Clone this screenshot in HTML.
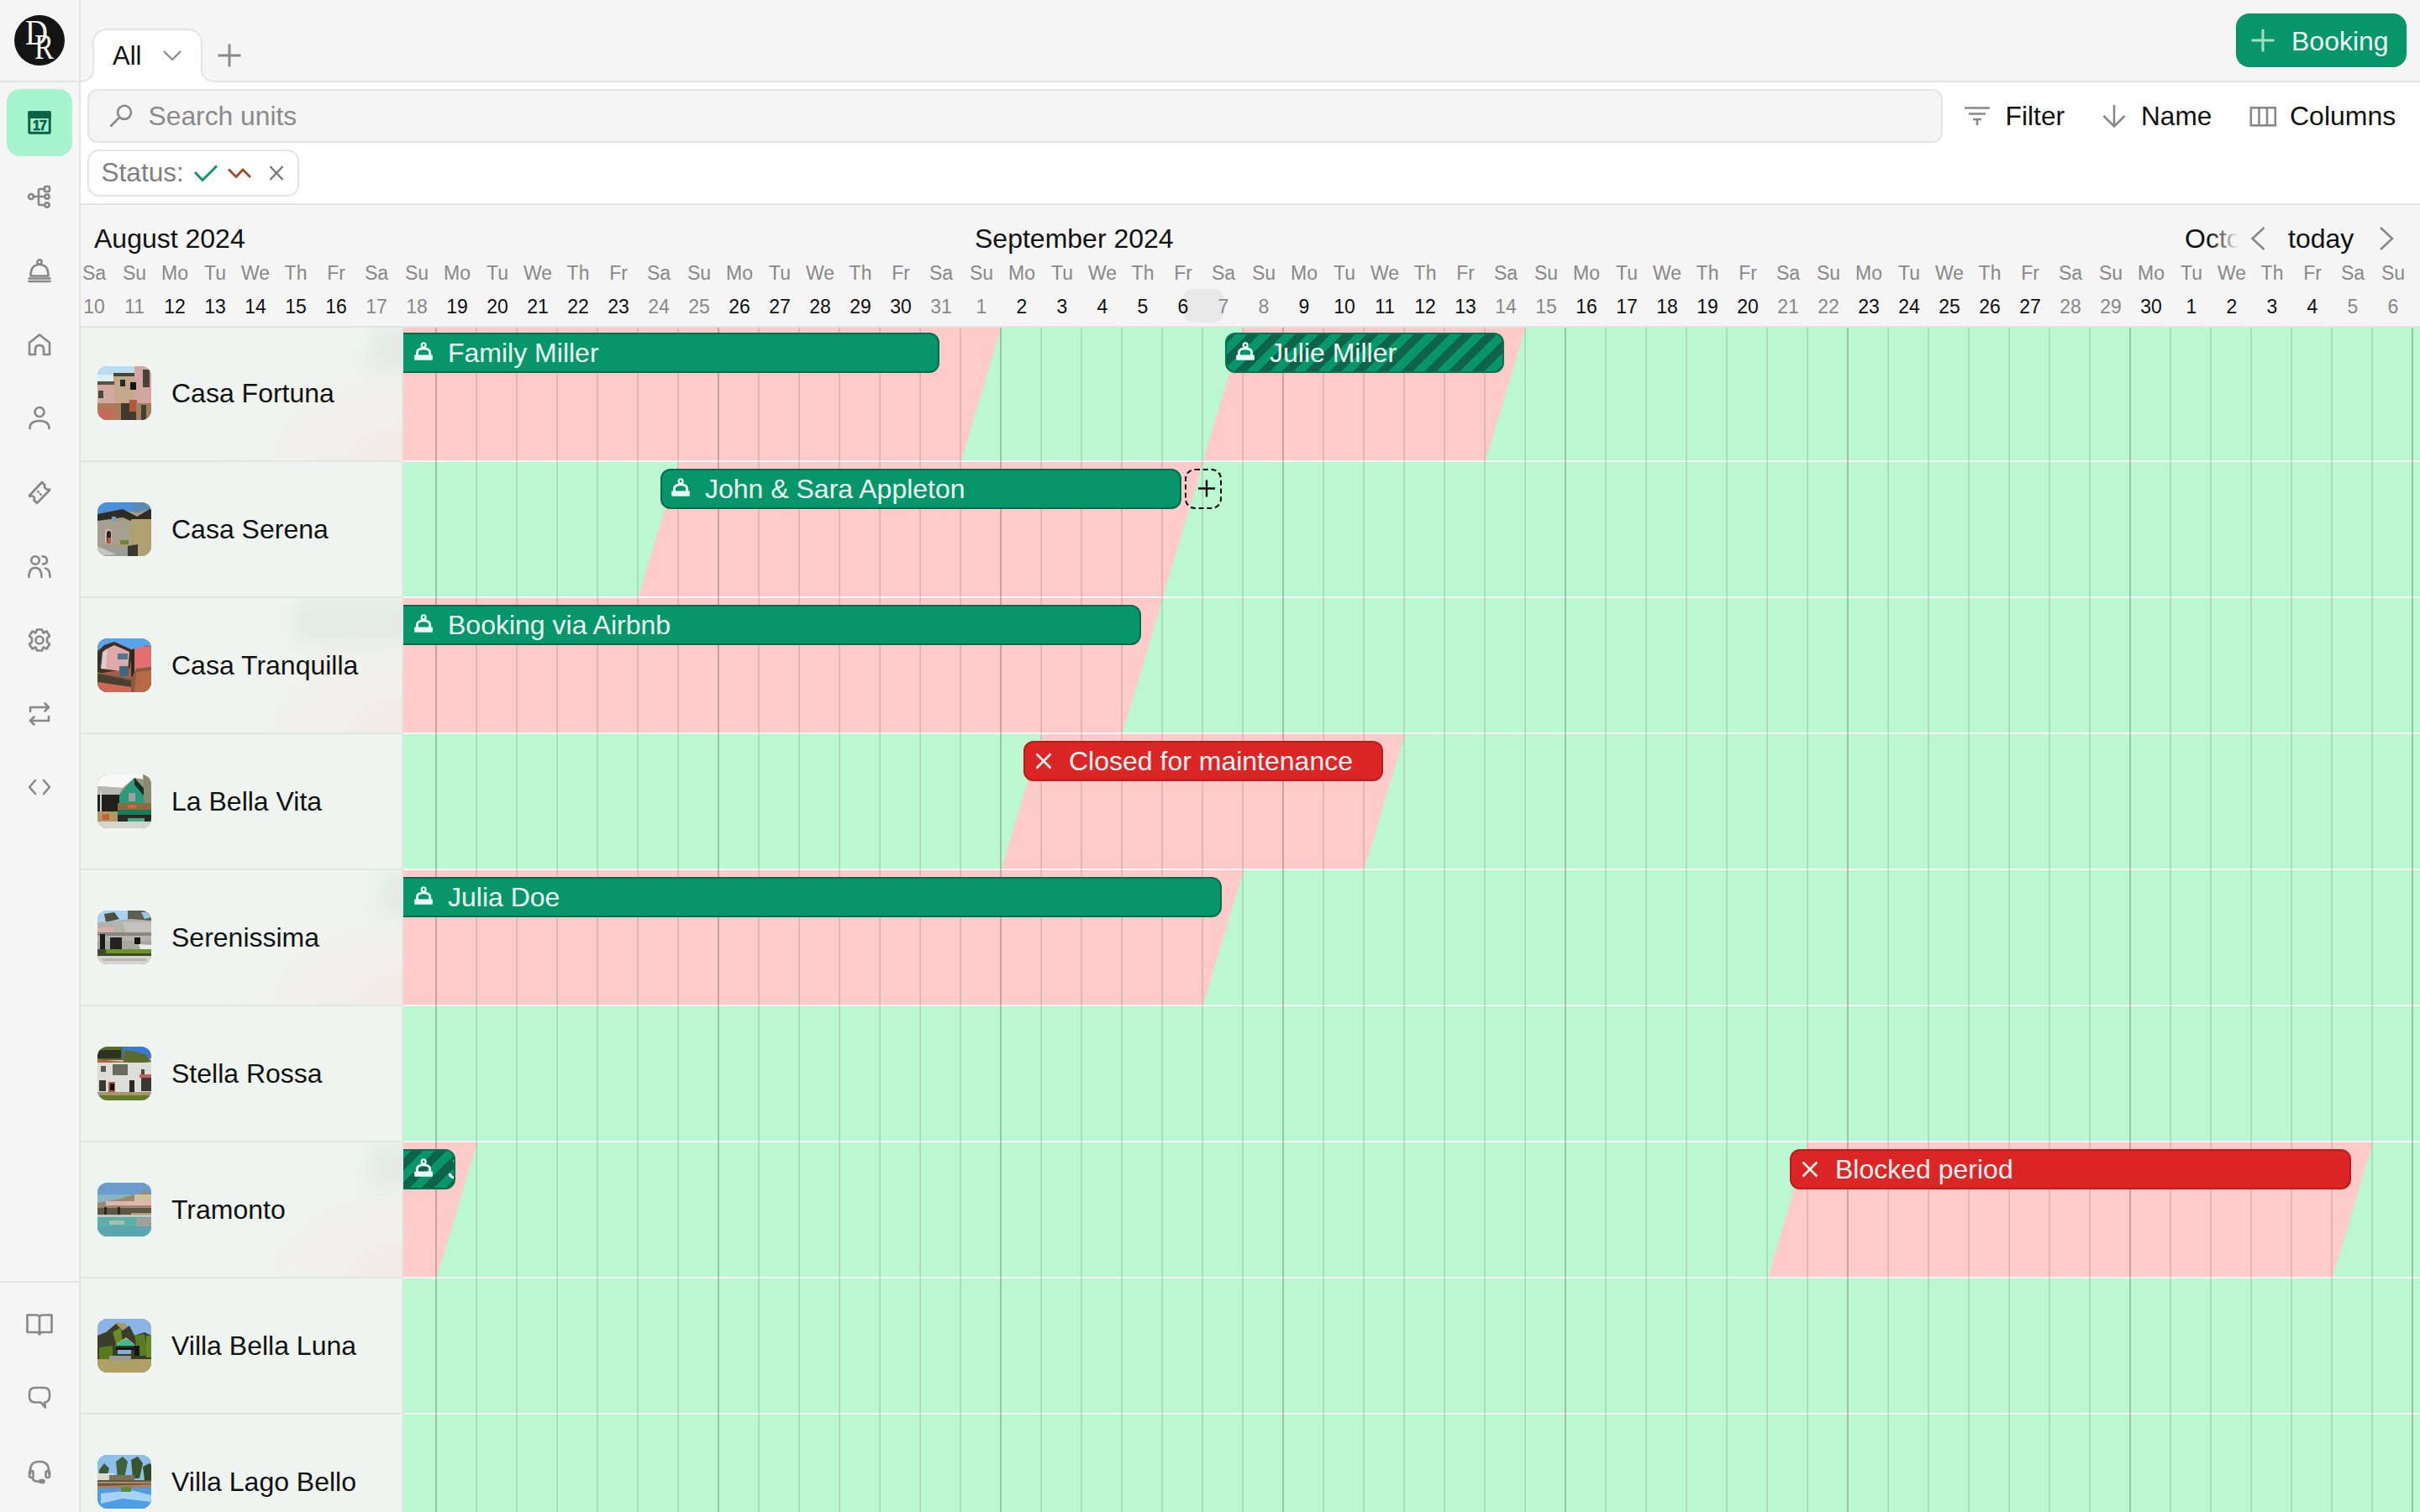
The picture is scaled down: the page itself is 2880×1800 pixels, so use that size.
<!DOCTYPE html><html><head><meta charset="utf-8"><style>
*{box-sizing:border-box;margin:0;padding:0}
html,body{width:2880px;height:1800px;overflow:hidden}
body{position:relative;background:#f5f5f5;font-family:"Liberation Sans",sans-serif;color:#111}
.a{position:absolute}
.t{position:absolute;white-space:nowrap;line-height:1}
svg{position:absolute;overflow:visible}
@media (max-width:2000px){html{zoom:0.5}}
</style></head><body><div class="a" style="left:0;top:0;width:96px;height:1800px;background:#f5f5f5;border-right:2px solid #e3e5e3"></div>
<div class="a" style="left:0;top:96px;width:94px;height:2px;background:#e3e5e3"></div>
<div class="a" style="left:0;top:1525px;width:94px;height:2px;background:#e3e5e3"></div>
<div class="a" style="left:17px;top:18px;width:60px;height:60px;border-radius:50%;background:#141414"></div>
<svg style="left:0;top:0" width="96" height="96" viewBox="0 0 96 96"><text x="30" y="53.2" font-family="Liberation Serif" font-size="42" fill="#f4f4f0" textLength="27" lengthAdjust="spacingAndGlyphs">D</text><text x="41" y="69.9" font-family="Liberation Serif" font-size="42" fill="#f4f4f0" textLength="23" lengthAdjust="spacingAndGlyphs">R</text></svg>
<div class="a" style="left:8px;top:106px;width:78px;height:80px;border-radius:16px;background:#a7f3d0"></div>
<svg style="left:0;top:0" width="96" height="200" viewBox="0 0 96 200"><rect x="34.8" y="133.8" width="24.4" height="24.4" rx="1" fill="none" stroke="#0c6246" stroke-width="3"/><rect x="33.3" y="132.3" width="27.3" height="8.8" rx="1.2" fill="#0c6246"/><text x="47" y="154.7" text-anchor="middle" font-family="Liberation Sans" font-weight="bold" font-size="16" letter-spacing="-0.8" fill="#0c6246" stroke="#0c6246" stroke-width="0.7">17</text></svg>
<svg style="left:33px;top:220px" width="28" height="28" viewBox="0 0 28 28"><g fill="none" stroke="#888888" stroke-width="2.6" stroke-linecap="round" stroke-linejoin="round"><circle cx="4" cy="14" r="3"/><rect x="20" y="2" width="6" height="6" rx="1"/><circle cx="23" cy="14" r="2.6"/><circle cx="23" cy="24" r="2.6"/><path d="M7 14H20M13 14V6.5Q13 5 14.5 5H20M13 14V22.5Q13 24 14.5 24H20"/></g></svg>
<svg style="left:33px;top:308px" width="28" height="30" viewBox="0 0 28 30"><g fill="none" stroke="#888888" stroke-width="2.6" stroke-linecap="round" stroke-linejoin="round"><circle cx="14" cy="4" r="2.6"/><path d="M3.5 20.5Q3.5 7 14 7Q24.5 7 24.5 20.5Z"/><path d="M1.5 23.5H26.5M1.5 27H26.5"/></g></svg>
<svg style="left:33px;top:396px" width="28" height="28" viewBox="0 0 28 28"><g fill="none" stroke="#888888" stroke-width="2.6" stroke-linecap="round" stroke-linejoin="round" stroke-linejoin="miter" stroke-linecap="butt"><path d="M2 26V12L14 2.5L26 12V26H19V20Q19 15 14 15Q9 15 9 20V26Z"/></g></svg>
<svg style="left:33px;top:483px" width="28" height="28" viewBox="0 0 28 28"><g fill="none" stroke="#888888" stroke-width="2.6" stroke-linecap="round" stroke-linejoin="round"><circle cx="14" cy="7.5" r="5.5"/><path d="M2.5 27Q2.5 18 14 18Q25.5 18 25.5 27"/></g></svg>
<svg style="left:33px;top:571px" width="28" height="30" viewBox="0 0 28 30"><g fill="none" stroke="#888888" stroke-width="2.6" stroke-linecap="round" stroke-linejoin="round"><path d="M2 19L17 3L20.5 6.5Q19 9.5 22 11Q24 12.5 26 11.5L26 12.5L11 28L7.5 24.5Q9 21.5 6.5 20Q4 18.5 2.5 20Z"/><path d="M12 14L13 15M15 17L16 18" stroke-width="2.4"/></g></svg>
<svg style="left:33px;top:660px" width="28" height="28" viewBox="0 0 28 28"><g fill="none" stroke="#888888" stroke-width="2.6" stroke-linecap="round" stroke-linejoin="round"><circle cx="9" cy="7" r="4.8"/><path d="M1.5 27Q1.5 16 9 16Q16.5 16 16.5 27"/><path d="M17.5 2.5Q23 2.5 23 7Q23 11.5 18 11.5"/><path d="M21 16.5Q26.5 17.5 26.5 27"/></g></svg>
<svg style="left:32px;top:747px" width="30" height="30" viewBox="0 0 30 30"><g fill="none" stroke="#888888" stroke-width="2.6" stroke-linecap="round" stroke-linejoin="round"><path d="M12 2.5H18L19.5 6.5L23.5 4.5L27 10L24 13V17L27 20L23.5 25.5L19.5 23.5L18 27.5H12L10.5 23.5L6.5 25.5L3 20L6 17V13L3 10L6.5 4.5L10.5 6.5Z"/><circle cx="15" cy="15" r="4.5"/></g></svg>
<svg style="left:33px;top:836px" width="28" height="28" viewBox="0 0 28 28"><g fill="none" stroke="#888888" stroke-width="2.6" stroke-linecap="round" stroke-linejoin="round"><path d="M3 11V6H25M20.5 1.5L25 6L20.5 10.5"/><path d="M25 17V22H3M7.5 17.5L3 22L7.5 26.5"/></g></svg>
<svg style="left:33px;top:927px" width="28" height="20" viewBox="0 0 28 20"><g fill="none" stroke="#888888" stroke-width="2.6" stroke-linecap="round" stroke-linejoin="round"><path d="M9 2L2 10L9 18M19 2L26 10L19 18"/></g></svg>
<svg style="left:31px;top:1564px" width="32" height="28" viewBox="0 0 32 28"><g fill="none" stroke="#888888" stroke-width="2.6" stroke-linecap="round" stroke-linejoin="round" stroke-linejoin="miter"><path d="M1.5 1.5H12Q16 1.5 16 5V23.5M30.5 1.5H20Q16 1.5 16 5M1.5 1.5V22H14L16 24.5L18 22H30.5V1.5"/></g></svg>
<svg style="left:33px;top:1650px" width="28" height="28" viewBox="0 0 28 28"><g fill="none" stroke="#888888" stroke-width="2.6" stroke-linecap="round" stroke-linejoin="round"><path d="M9 19.5Q2 19.5 2 12.5V9Q2 2 9 2H19Q26 2 26 9V12.5Q26 19 20 19.5L21 25.5L15.5 19.5Z"/></g></svg>
<svg style="left:33px;top:1738px" width="28" height="28" viewBox="0 0 28 28"><g fill="none" stroke="#888888" stroke-width="2.6" stroke-linecap="round" stroke-linejoin="round"><path d="M3 16V13Q3 2 14 2Q25 2 25 13V16"/><rect x="2" y="13" width="4.5" height="8" rx="2"/><rect x="21.5" y="13" width="4.5" height="8" rx="2"/><path d="M6 21Q6 25.5 11 25.5H15"/><rect x="14.5" y="24" width="5" height="3" rx="1" fill="#888888"/></g></svg>
<svg style="left:0;top:0" width="2880" height="100" viewBox="0 0 2880 100"><path d="M96 99V97A14 14 0 0 0 111 83V51A16 16 0 0 1 127 35H224A16 16 0 0 1 240 51V83A14 14 0 0 0 254 97V99Z" fill="#fff"/><path d="M94 97H97A14 14 0 0 0 111 83V51A16 16 0 0 1 127 35H224A16 16 0 0 1 240 51V83A14 14 0 0 0 254 97H2880" fill="none" stroke="#e3e5e3" stroke-width="2"/></svg>
<div class="t" style="left:134.0px;top:51.00px;font-size:31px;color:#111;">All</div>
<svg style="left:0;top:0" width="300" height="100"><path d="M195 61L205 71L215 61" fill="none" stroke="#888888" stroke-width="2.2"/><path d="M259.5 66H286.5M273 52.5V79.5" stroke="#888888" stroke-width="2.8"/></svg>
<div class="a" style="left:2661px;top:16px;width:203px;height:64px;border-radius:16px;background:#079669"></div>
<svg style="left:2670px;top:30px" width="50" height="40"><path d="M9.5 18H36.5M23 4.7V31.5" stroke="#a6dbc4" stroke-width="3"/></svg>
<div class="t" style="left:2727.0px;top:32.50px;font-size:32px;color:#ecfdf5;">Booking</div>
<div class="a" style="left:96px;top:98px;width:2784px;height:144px;background:#fff"></div>
<div class="a" style="left:96px;top:242px;width:2784px;height:2px;background:#e3e5e3"></div>
<div class="a" style="left:104px;top:106px;width:2208px;height:64px;border-radius:12px;background:#f5f5f5;border:2px solid #e3e5e3"></div>
<svg style="left:125px;top:118px" width="40" height="40" viewBox="0 0 40 40"><g fill="none" stroke="#888888" stroke-width="2.6"><circle cx="23" cy="15.8" r="8"/><path d="M6.5 32.5L17.3 21.7"/></g></svg>
<div class="t" style="left:176.5px;top:123.10px;font-size:31.8px;color:#8a8a8a;">Search units</div>
<svg style="left:2330px;top:120px" width="50" height="40"><g stroke="#888888" stroke-width="2.6" fill="none"><path d="M8 8.5H38M13 15.5H33M18 22H28M23 22V29"/></g></svg>
<div class="t" style="left:2386.5px;top:123.10px;font-size:31.8px;color:#111;">Filter</div>
<svg style="left:2495px;top:118px" width="40" height="40"><g stroke="#888888" stroke-width="2.6" fill="none"><path d="M21 7V32.5M8.5 20L21 32.5L33.5 20"/></g></svg>
<div class="t" style="left:2548.0px;top:123.20px;font-size:31.6px;color:#111;">Name</div>
<svg style="left:2670px;top:120px" width="50" height="40"><g stroke="#888888" stroke-width="2.6" fill="none"><rect x="8.8" y="8.3" width="29" height="21"/><path d="M18.5 8.3V29.3M28 8.3V29.3"/></g></svg>
<div class="t" style="left:2725.0px;top:122.00px;font-size:32px;color:#111;">Columns</div>
<div class="a" style="left:104px;top:178px;width:252px;height:56px;border-radius:14px;background:#fff;border:2px solid #e3e5e3"></div>
<div class="t" style="left:120.5px;top:189.70px;font-size:31.6px;color:#808080;">Status:</div>
<svg style="left:220px;top:185px" width="130" height="40" viewBox="220 185 130 40"><path d="M232 205L241 214.5L258 197.5" fill="none" stroke="#079669" stroke-width="2.8"/><path d="M272 201.5L281 210.5L289 202L298 211" fill="none" stroke="#a14a2a" stroke-width="2.8"/><path d="M321.5 198L336.5 214M336.5 198L321.5 214" fill="none" stroke="#777" stroke-width="2.3"/></svg>
<div class="a" style="left:96px;top:244px;width:2784px;height:144px;background:#f5f5f5"></div>
<div class="a" style="left:1408px;top:344px;width:48px;height:40px;border-radius:12px;background:#e7e8e7"></div>
<div class="t" style="left:112.0px;top:313.50px;font-size:23px;color:#888;width:0;display:flex;justify-content:center;">Sa</div>
<div class="t" style="left:112.0px;top:353.50px;font-size:23px;color:#888;width:0;display:flex;justify-content:center;">10</div>
<div class="t" style="left:160.0px;top:313.50px;font-size:23px;color:#888;width:0;display:flex;justify-content:center;">Su</div>
<div class="t" style="left:160.0px;top:353.50px;font-size:23px;color:#888;width:0;display:flex;justify-content:center;">11</div>
<div class="t" style="left:208.0px;top:313.50px;font-size:23px;color:#888;width:0;display:flex;justify-content:center;">Mo</div>
<div class="t" style="left:208.0px;top:353.50px;font-size:23px;color:#111;width:0;display:flex;justify-content:center;">12</div>
<div class="t" style="left:256.0px;top:313.50px;font-size:23px;color:#888;width:0;display:flex;justify-content:center;">Tu</div>
<div class="t" style="left:256.0px;top:353.50px;font-size:23px;color:#111;width:0;display:flex;justify-content:center;">13</div>
<div class="t" style="left:304.0px;top:313.50px;font-size:23px;color:#888;width:0;display:flex;justify-content:center;">We</div>
<div class="t" style="left:304.0px;top:353.50px;font-size:23px;color:#111;width:0;display:flex;justify-content:center;">14</div>
<div class="t" style="left:352.0px;top:313.50px;font-size:23px;color:#888;width:0;display:flex;justify-content:center;">Th</div>
<div class="t" style="left:352.0px;top:353.50px;font-size:23px;color:#111;width:0;display:flex;justify-content:center;">15</div>
<div class="t" style="left:400.0px;top:313.50px;font-size:23px;color:#888;width:0;display:flex;justify-content:center;">Fr</div>
<div class="t" style="left:400.0px;top:353.50px;font-size:23px;color:#111;width:0;display:flex;justify-content:center;">16</div>
<div class="t" style="left:448.0px;top:313.50px;font-size:23px;color:#888;width:0;display:flex;justify-content:center;">Sa</div>
<div class="t" style="left:448.0px;top:353.50px;font-size:23px;color:#888;width:0;display:flex;justify-content:center;">17</div>
<div class="t" style="left:496.0px;top:313.50px;font-size:23px;color:#888;width:0;display:flex;justify-content:center;">Su</div>
<div class="t" style="left:496.0px;top:353.50px;font-size:23px;color:#888;width:0;display:flex;justify-content:center;">18</div>
<div class="t" style="left:544.0px;top:313.50px;font-size:23px;color:#888;width:0;display:flex;justify-content:center;">Mo</div>
<div class="t" style="left:544.0px;top:353.50px;font-size:23px;color:#111;width:0;display:flex;justify-content:center;">19</div>
<div class="t" style="left:592.0px;top:313.50px;font-size:23px;color:#888;width:0;display:flex;justify-content:center;">Tu</div>
<div class="t" style="left:592.0px;top:353.50px;font-size:23px;color:#111;width:0;display:flex;justify-content:center;">20</div>
<div class="t" style="left:640.0px;top:313.50px;font-size:23px;color:#888;width:0;display:flex;justify-content:center;">We</div>
<div class="t" style="left:640.0px;top:353.50px;font-size:23px;color:#111;width:0;display:flex;justify-content:center;">21</div>
<div class="t" style="left:688.0px;top:313.50px;font-size:23px;color:#888;width:0;display:flex;justify-content:center;">Th</div>
<div class="t" style="left:688.0px;top:353.50px;font-size:23px;color:#111;width:0;display:flex;justify-content:center;">22</div>
<div class="t" style="left:736.0px;top:313.50px;font-size:23px;color:#888;width:0;display:flex;justify-content:center;">Fr</div>
<div class="t" style="left:736.0px;top:353.50px;font-size:23px;color:#111;width:0;display:flex;justify-content:center;">23</div>
<div class="t" style="left:784.0px;top:313.50px;font-size:23px;color:#888;width:0;display:flex;justify-content:center;">Sa</div>
<div class="t" style="left:784.0px;top:353.50px;font-size:23px;color:#888;width:0;display:flex;justify-content:center;">24</div>
<div class="t" style="left:832.0px;top:313.50px;font-size:23px;color:#888;width:0;display:flex;justify-content:center;">Su</div>
<div class="t" style="left:832.0px;top:353.50px;font-size:23px;color:#888;width:0;display:flex;justify-content:center;">25</div>
<div class="t" style="left:880.0px;top:313.50px;font-size:23px;color:#888;width:0;display:flex;justify-content:center;">Mo</div>
<div class="t" style="left:880.0px;top:353.50px;font-size:23px;color:#111;width:0;display:flex;justify-content:center;">26</div>
<div class="t" style="left:928.0px;top:313.50px;font-size:23px;color:#888;width:0;display:flex;justify-content:center;">Tu</div>
<div class="t" style="left:928.0px;top:353.50px;font-size:23px;color:#111;width:0;display:flex;justify-content:center;">27</div>
<div class="t" style="left:976.0px;top:313.50px;font-size:23px;color:#888;width:0;display:flex;justify-content:center;">We</div>
<div class="t" style="left:976.0px;top:353.50px;font-size:23px;color:#111;width:0;display:flex;justify-content:center;">28</div>
<div class="t" style="left:1024.0px;top:313.50px;font-size:23px;color:#888;width:0;display:flex;justify-content:center;">Th</div>
<div class="t" style="left:1024.0px;top:353.50px;font-size:23px;color:#111;width:0;display:flex;justify-content:center;">29</div>
<div class="t" style="left:1072.0px;top:313.50px;font-size:23px;color:#888;width:0;display:flex;justify-content:center;">Fr</div>
<div class="t" style="left:1072.0px;top:353.50px;font-size:23px;color:#111;width:0;display:flex;justify-content:center;">30</div>
<div class="t" style="left:1120.0px;top:313.50px;font-size:23px;color:#888;width:0;display:flex;justify-content:center;">Sa</div>
<div class="t" style="left:1120.0px;top:353.50px;font-size:23px;color:#888;width:0;display:flex;justify-content:center;">31</div>
<div class="t" style="left:1168.0px;top:313.50px;font-size:23px;color:#888;width:0;display:flex;justify-content:center;">Su</div>
<div class="t" style="left:1168.0px;top:353.50px;font-size:23px;color:#888;width:0;display:flex;justify-content:center;">1</div>
<div class="t" style="left:1216.0px;top:313.50px;font-size:23px;color:#888;width:0;display:flex;justify-content:center;">Mo</div>
<div class="t" style="left:1216.0px;top:353.50px;font-size:23px;color:#111;width:0;display:flex;justify-content:center;">2</div>
<div class="t" style="left:1264.0px;top:313.50px;font-size:23px;color:#888;width:0;display:flex;justify-content:center;">Tu</div>
<div class="t" style="left:1264.0px;top:353.50px;font-size:23px;color:#111;width:0;display:flex;justify-content:center;">3</div>
<div class="t" style="left:1312.0px;top:313.50px;font-size:23px;color:#888;width:0;display:flex;justify-content:center;">We</div>
<div class="t" style="left:1312.0px;top:353.50px;font-size:23px;color:#111;width:0;display:flex;justify-content:center;">4</div>
<div class="t" style="left:1360.0px;top:313.50px;font-size:23px;color:#888;width:0;display:flex;justify-content:center;">Th</div>
<div class="t" style="left:1360.0px;top:353.50px;font-size:23px;color:#111;width:0;display:flex;justify-content:center;">5</div>
<div class="t" style="left:1408.0px;top:313.50px;font-size:23px;color:#888;width:0;display:flex;justify-content:center;">Fr</div>
<div class="t" style="left:1408.0px;top:353.50px;font-size:23px;color:#111;width:0;display:flex;justify-content:center;">6</div>
<div class="t" style="left:1456.0px;top:313.50px;font-size:23px;color:#888;width:0;display:flex;justify-content:center;">Sa</div>
<div class="t" style="left:1456.0px;top:353.50px;font-size:23px;color:#888;width:0;display:flex;justify-content:center;">7</div>
<div class="t" style="left:1504.0px;top:313.50px;font-size:23px;color:#888;width:0;display:flex;justify-content:center;">Su</div>
<div class="t" style="left:1504.0px;top:353.50px;font-size:23px;color:#888;width:0;display:flex;justify-content:center;">8</div>
<div class="t" style="left:1552.0px;top:313.50px;font-size:23px;color:#888;width:0;display:flex;justify-content:center;">Mo</div>
<div class="t" style="left:1552.0px;top:353.50px;font-size:23px;color:#111;width:0;display:flex;justify-content:center;">9</div>
<div class="t" style="left:1600.0px;top:313.50px;font-size:23px;color:#888;width:0;display:flex;justify-content:center;">Tu</div>
<div class="t" style="left:1600.0px;top:353.50px;font-size:23px;color:#111;width:0;display:flex;justify-content:center;">10</div>
<div class="t" style="left:1648.0px;top:313.50px;font-size:23px;color:#888;width:0;display:flex;justify-content:center;">We</div>
<div class="t" style="left:1648.0px;top:353.50px;font-size:23px;color:#111;width:0;display:flex;justify-content:center;">11</div>
<div class="t" style="left:1696.0px;top:313.50px;font-size:23px;color:#888;width:0;display:flex;justify-content:center;">Th</div>
<div class="t" style="left:1696.0px;top:353.50px;font-size:23px;color:#111;width:0;display:flex;justify-content:center;">12</div>
<div class="t" style="left:1744.0px;top:313.50px;font-size:23px;color:#888;width:0;display:flex;justify-content:center;">Fr</div>
<div class="t" style="left:1744.0px;top:353.50px;font-size:23px;color:#111;width:0;display:flex;justify-content:center;">13</div>
<div class="t" style="left:1792.0px;top:313.50px;font-size:23px;color:#888;width:0;display:flex;justify-content:center;">Sa</div>
<div class="t" style="left:1792.0px;top:353.50px;font-size:23px;color:#888;width:0;display:flex;justify-content:center;">14</div>
<div class="t" style="left:1840.0px;top:313.50px;font-size:23px;color:#888;width:0;display:flex;justify-content:center;">Su</div>
<div class="t" style="left:1840.0px;top:353.50px;font-size:23px;color:#888;width:0;display:flex;justify-content:center;">15</div>
<div class="t" style="left:1888.0px;top:313.50px;font-size:23px;color:#888;width:0;display:flex;justify-content:center;">Mo</div>
<div class="t" style="left:1888.0px;top:353.50px;font-size:23px;color:#111;width:0;display:flex;justify-content:center;">16</div>
<div class="t" style="left:1936.0px;top:313.50px;font-size:23px;color:#888;width:0;display:flex;justify-content:center;">Tu</div>
<div class="t" style="left:1936.0px;top:353.50px;font-size:23px;color:#111;width:0;display:flex;justify-content:center;">17</div>
<div class="t" style="left:1984.0px;top:313.50px;font-size:23px;color:#888;width:0;display:flex;justify-content:center;">We</div>
<div class="t" style="left:1984.0px;top:353.50px;font-size:23px;color:#111;width:0;display:flex;justify-content:center;">18</div>
<div class="t" style="left:2032.0px;top:313.50px;font-size:23px;color:#888;width:0;display:flex;justify-content:center;">Th</div>
<div class="t" style="left:2032.0px;top:353.50px;font-size:23px;color:#111;width:0;display:flex;justify-content:center;">19</div>
<div class="t" style="left:2080.0px;top:313.50px;font-size:23px;color:#888;width:0;display:flex;justify-content:center;">Fr</div>
<div class="t" style="left:2080.0px;top:353.50px;font-size:23px;color:#111;width:0;display:flex;justify-content:center;">20</div>
<div class="t" style="left:2128.0px;top:313.50px;font-size:23px;color:#888;width:0;display:flex;justify-content:center;">Sa</div>
<div class="t" style="left:2128.0px;top:353.50px;font-size:23px;color:#888;width:0;display:flex;justify-content:center;">21</div>
<div class="t" style="left:2176.0px;top:313.50px;font-size:23px;color:#888;width:0;display:flex;justify-content:center;">Su</div>
<div class="t" style="left:2176.0px;top:353.50px;font-size:23px;color:#888;width:0;display:flex;justify-content:center;">22</div>
<div class="t" style="left:2224.0px;top:313.50px;font-size:23px;color:#888;width:0;display:flex;justify-content:center;">Mo</div>
<div class="t" style="left:2224.0px;top:353.50px;font-size:23px;color:#111;width:0;display:flex;justify-content:center;">23</div>
<div class="t" style="left:2272.0px;top:313.50px;font-size:23px;color:#888;width:0;display:flex;justify-content:center;">Tu</div>
<div class="t" style="left:2272.0px;top:353.50px;font-size:23px;color:#111;width:0;display:flex;justify-content:center;">24</div>
<div class="t" style="left:2320.0px;top:313.50px;font-size:23px;color:#888;width:0;display:flex;justify-content:center;">We</div>
<div class="t" style="left:2320.0px;top:353.50px;font-size:23px;color:#111;width:0;display:flex;justify-content:center;">25</div>
<div class="t" style="left:2368.0px;top:313.50px;font-size:23px;color:#888;width:0;display:flex;justify-content:center;">Th</div>
<div class="t" style="left:2368.0px;top:353.50px;font-size:23px;color:#111;width:0;display:flex;justify-content:center;">26</div>
<div class="t" style="left:2416.0px;top:313.50px;font-size:23px;color:#888;width:0;display:flex;justify-content:center;">Fr</div>
<div class="t" style="left:2416.0px;top:353.50px;font-size:23px;color:#111;width:0;display:flex;justify-content:center;">27</div>
<div class="t" style="left:2464.0px;top:313.50px;font-size:23px;color:#888;width:0;display:flex;justify-content:center;">Sa</div>
<div class="t" style="left:2464.0px;top:353.50px;font-size:23px;color:#888;width:0;display:flex;justify-content:center;">28</div>
<div class="t" style="left:2512.0px;top:313.50px;font-size:23px;color:#888;width:0;display:flex;justify-content:center;">Su</div>
<div class="t" style="left:2512.0px;top:353.50px;font-size:23px;color:#888;width:0;display:flex;justify-content:center;">29</div>
<div class="t" style="left:2560.0px;top:313.50px;font-size:23px;color:#888;width:0;display:flex;justify-content:center;">Mo</div>
<div class="t" style="left:2560.0px;top:353.50px;font-size:23px;color:#111;width:0;display:flex;justify-content:center;">30</div>
<div class="t" style="left:2608.0px;top:313.50px;font-size:23px;color:#888;width:0;display:flex;justify-content:center;">Tu</div>
<div class="t" style="left:2608.0px;top:353.50px;font-size:23px;color:#111;width:0;display:flex;justify-content:center;">1</div>
<div class="t" style="left:2656.0px;top:313.50px;font-size:23px;color:#888;width:0;display:flex;justify-content:center;">We</div>
<div class="t" style="left:2656.0px;top:353.50px;font-size:23px;color:#111;width:0;display:flex;justify-content:center;">2</div>
<div class="t" style="left:2704.0px;top:313.50px;font-size:23px;color:#888;width:0;display:flex;justify-content:center;">Th</div>
<div class="t" style="left:2704.0px;top:353.50px;font-size:23px;color:#111;width:0;display:flex;justify-content:center;">3</div>
<div class="t" style="left:2752.0px;top:313.50px;font-size:23px;color:#888;width:0;display:flex;justify-content:center;">Fr</div>
<div class="t" style="left:2752.0px;top:353.50px;font-size:23px;color:#111;width:0;display:flex;justify-content:center;">4</div>
<div class="t" style="left:2800.0px;top:313.50px;font-size:23px;color:#888;width:0;display:flex;justify-content:center;">Sa</div>
<div class="t" style="left:2800.0px;top:353.50px;font-size:23px;color:#888;width:0;display:flex;justify-content:center;">5</div>
<div class="t" style="left:2848.0px;top:313.50px;font-size:23px;color:#888;width:0;display:flex;justify-content:center;">Su</div>
<div class="t" style="left:2848.0px;top:353.50px;font-size:23px;color:#888;width:0;display:flex;justify-content:center;">6</div>
<div class="t" style="left:2896.0px;top:313.50px;font-size:23px;color:#888;width:0;display:flex;justify-content:center;">Mo</div>
<div class="t" style="left:2896.0px;top:353.50px;font-size:23px;color:#111;width:0;display:flex;justify-content:center;">7</div>
<div class="t" style="left:112.0px;top:268.00px;font-size:32px;color:#111;">August 2024</div>
<div class="t" style="left:1160.0px;top:268.00px;font-size:32px;color:#111;">September 2024</div>
<div class="t" style="left:2600.0px;top:268.00px;font-size:32px;color:#111;">October 2024</div>
<div class="a" style="left:2630px;top:258px;width:250px;height:50px;background:linear-gradient(90deg,rgba(245,245,245,0) 0,#f5f5f5 34px)"></div>
<svg style="left:2670px;top:265px" width="190" height="40" viewBox="2670 265 190 40"><g fill="none" stroke="#888888" stroke-width="2.6"><path d="M2694.5 271L2680.5 284L2694.5 297"/><path d="M2833 271L2847 284L2833 297"/></g></svg>
<div class="t" style="left:2723.0px;top:268.00px;font-size:32px;color:#111;">today</div>
<svg style="left:0;top:388px" width="2880" height="1412" viewBox="0 388 2880 1412"><rect x="480" y="388" width="2400" height="160" fill="#bbf7d0"/><path d="M400 548L400 388L1192 388L1144 548Z" fill="#fecaca"/><path d="M1432 548L1480 388L1816 388L1768 548Z" fill="#fecaca"/><rect x="480" y="548" width="2400" height="2" fill="#f6f4f6"/><rect x="480" y="550" width="2400" height="160" fill="#bbf7d0"/><path d="M760 710L808 550L1432 550L1384 710Z" fill="#fecaca"/><rect x="480" y="710" width="2400" height="2" fill="#f6f4f6"/><rect x="480" y="712" width="2400" height="160" fill="#bbf7d0"/><path d="M400 872L400 712L1384 712L1336 872Z" fill="#fecaca"/><rect x="480" y="872" width="2400" height="2" fill="#f6f4f6"/><rect x="480" y="874" width="2400" height="160" fill="#bbf7d0"/><path d="M1192 1034L1240 874L1672 874L1624 1034Z" fill="#fecaca"/><rect x="480" y="1034" width="2400" height="2" fill="#f6f4f6"/><rect x="480" y="1036" width="2400" height="160" fill="#bbf7d0"/><path d="M400 1196L400 1036L1480 1036L1432 1196Z" fill="#fecaca"/><rect x="480" y="1196" width="2400" height="2" fill="#f6f4f6"/><rect x="480" y="1198" width="2400" height="160" fill="#bbf7d0"/><rect x="480" y="1358" width="2400" height="2" fill="#f6f4f6"/><rect x="480" y="1360" width="2400" height="160" fill="#bbf7d0"/><path d="M400 1520L400 1360L568 1360L520 1520Z" fill="#fecaca"/><path d="M2104 1520L2152 1360L2824 1360L2776 1520Z" fill="#fecaca"/><rect x="480" y="1520" width="2400" height="2" fill="#f6f4f6"/><rect x="480" y="1522" width="2400" height="160" fill="#bbf7d0"/><rect x="480" y="1682" width="2400" height="2" fill="#f6f4f6"/><rect x="480" y="1684" width="2400" height="160" fill="#bbf7d0"/><rect x="480" y="1844" width="2400" height="2" fill="#f6f4f6"/><rect x="518" y="390" width="2" height="1410" fill="rgba(0,0,0,0.2)"/><rect x="566" y="390" width="2" height="1410" fill="rgba(0,0,0,0.1)"/><rect x="614" y="390" width="2" height="1410" fill="rgba(0,0,0,0.1)"/><rect x="662" y="390" width="2" height="1410" fill="rgba(0,0,0,0.1)"/><rect x="710" y="390" width="2" height="1410" fill="rgba(0,0,0,0.1)"/><rect x="758" y="390" width="2" height="1410" fill="rgba(0,0,0,0.1)"/><rect x="806" y="390" width="2" height="1410" fill="rgba(0,0,0,0.1)"/><rect x="854" y="390" width="2" height="1410" fill="rgba(0,0,0,0.2)"/><rect x="902" y="390" width="2" height="1410" fill="rgba(0,0,0,0.1)"/><rect x="950" y="390" width="2" height="1410" fill="rgba(0,0,0,0.1)"/><rect x="998" y="390" width="2" height="1410" fill="rgba(0,0,0,0.1)"/><rect x="1046" y="390" width="2" height="1410" fill="rgba(0,0,0,0.1)"/><rect x="1094" y="390" width="2" height="1410" fill="rgba(0,0,0,0.1)"/><rect x="1142" y="390" width="2" height="1410" fill="rgba(0,0,0,0.1)"/><rect x="1190" y="390" width="2" height="1410" fill="rgba(0,0,0,0.2)"/><rect x="1238" y="390" width="2" height="1410" fill="rgba(0,0,0,0.1)"/><rect x="1286" y="390" width="2" height="1410" fill="rgba(0,0,0,0.1)"/><rect x="1334" y="390" width="2" height="1410" fill="rgba(0,0,0,0.1)"/><rect x="1382" y="390" width="2" height="1410" fill="rgba(0,0,0,0.1)"/><rect x="1430" y="390" width="2" height="1410" fill="rgba(0,0,0,0.1)"/><rect x="1478" y="390" width="2" height="1410" fill="rgba(0,0,0,0.1)"/><rect x="1526" y="390" width="2" height="1410" fill="rgba(0,0,0,0.2)"/><rect x="1574" y="390" width="2" height="1410" fill="rgba(0,0,0,0.1)"/><rect x="1622" y="390" width="2" height="1410" fill="rgba(0,0,0,0.1)"/><rect x="1670" y="390" width="2" height="1410" fill="rgba(0,0,0,0.1)"/><rect x="1718" y="390" width="2" height="1410" fill="rgba(0,0,0,0.1)"/><rect x="1766" y="390" width="2" height="1410" fill="rgba(0,0,0,0.1)"/><rect x="1814" y="390" width="2" height="1410" fill="rgba(0,0,0,0.1)"/><rect x="1862" y="390" width="2" height="1410" fill="rgba(0,0,0,0.2)"/><rect x="1910" y="390" width="2" height="1410" fill="rgba(0,0,0,0.1)"/><rect x="1958" y="390" width="2" height="1410" fill="rgba(0,0,0,0.1)"/><rect x="2006" y="390" width="2" height="1410" fill="rgba(0,0,0,0.1)"/><rect x="2054" y="390" width="2" height="1410" fill="rgba(0,0,0,0.1)"/><rect x="2102" y="390" width="2" height="1410" fill="rgba(0,0,0,0.1)"/><rect x="2150" y="390" width="2" height="1410" fill="rgba(0,0,0,0.1)"/><rect x="2198" y="390" width="2" height="1410" fill="rgba(0,0,0,0.2)"/><rect x="2246" y="390" width="2" height="1410" fill="rgba(0,0,0,0.1)"/><rect x="2294" y="390" width="2" height="1410" fill="rgba(0,0,0,0.1)"/><rect x="2342" y="390" width="2" height="1410" fill="rgba(0,0,0,0.1)"/><rect x="2390" y="390" width="2" height="1410" fill="rgba(0,0,0,0.1)"/><rect x="2438" y="390" width="2" height="1410" fill="rgba(0,0,0,0.1)"/><rect x="2486" y="390" width="2" height="1410" fill="rgba(0,0,0,0.1)"/><rect x="2534" y="390" width="2" height="1410" fill="rgba(0,0,0,0.2)"/><rect x="2582" y="390" width="2" height="1410" fill="rgba(0,0,0,0.1)"/><rect x="2630" y="390" width="2" height="1410" fill="rgba(0,0,0,0.1)"/><rect x="2678" y="390" width="2" height="1410" fill="rgba(0,0,0,0.1)"/><rect x="2726" y="390" width="2" height="1410" fill="rgba(0,0,0,0.1)"/><rect x="2774" y="390" width="2" height="1410" fill="rgba(0,0,0,0.1)"/><rect x="2822" y="390" width="2" height="1410" fill="rgba(0,0,0,0.1)"/><rect x="2870" y="390" width="2" height="1410" fill="rgba(0,0,0,0.2)"/><rect x="2918" y="390" width="2" height="1410" fill="rgba(0,0,0,0.1)"/></svg>
<div class="a" style="left:96px;top:388px;width:2784px;height:2px;background:#e3e5e3"></div>
<div class="a" style="left:440px;top:396px;width:678px;height:48px;border-radius:12px;background:#079669;border:2px solid #046c4e;overflow:hidden">
<svg style="left:51px;top:9px" width="22" height="22" viewBox="0 0 22 22"><circle cx="11.1" cy="3.9" r="2.5" fill="none" stroke="#ecfdf5" stroke-width="2.2"/><path d="M3.5 16.5V12.5A7.55 4.8 0 0 1 18.6 12.5V16.5" fill="none" stroke="#ecfdf5" stroke-width="3"/><rect x="0.2" y="15.5" width="21.6" height="6.3" rx="0.8" fill="#ecfdf5"/></svg>
<div class="t" style="left:91.0px;top:6.00px;font-size:32px;color:#ecfdf5;">Family Miller</div>
</div>
<div class="a" style="left:1458px;top:396px;width:332px;height:48px;border-radius:12px;background:repeating-linear-gradient(135deg,#0d6448 0 7.5px,#079669 7.5px 17.5px,#0d6448 17.5px 20px);border:2px solid #05734f;overflow:hidden">
<svg style="left:11px;top:9px" width="22" height="22" viewBox="0 0 22 22"><circle cx="11.1" cy="3.9" r="2.5" fill="none" stroke="#ecfdf5" stroke-width="2.2"/><path d="M3.5 16.5V12.5A7.55 4.8 0 0 1 18.6 12.5V16.5" fill="none" stroke="#ecfdf5" stroke-width="3"/><rect x="0.2" y="15.5" width="21.6" height="6.3" rx="0.8" fill="#ecfdf5"/></svg>
<div class="t" style="left:51.0px;top:6.00px;font-size:32px;color:#ecfdf5;">Julie Miller</div>
</div>
<div class="a" style="left:786px;top:558px;width:620px;height:48px;border-radius:12px;background:#079669;border:2px solid #046c4e;overflow:hidden">
<svg style="left:11px;top:9px" width="22" height="22" viewBox="0 0 22 22"><circle cx="11.1" cy="3.9" r="2.5" fill="none" stroke="#ecfdf5" stroke-width="2.2"/><path d="M3.5 16.5V12.5A7.55 4.8 0 0 1 18.6 12.5V16.5" fill="none" stroke="#ecfdf5" stroke-width="3"/><rect x="0.2" y="15.5" width="21.6" height="6.3" rx="0.8" fill="#ecfdf5"/></svg>
<div class="t" style="left:51.0px;top:6.00px;font-size:32px;color:#ecfdf5;">John &amp; Sara Appleton</div>
</div>
<div class="a" style="left:440px;top:720px;width:918px;height:48px;border-radius:12px;background:#079669;border:2px solid #046c4e;overflow:hidden">
<svg style="left:51px;top:9px" width="22" height="22" viewBox="0 0 22 22"><circle cx="11.1" cy="3.9" r="2.5" fill="none" stroke="#ecfdf5" stroke-width="2.2"/><path d="M3.5 16.5V12.5A7.55 4.8 0 0 1 18.6 12.5V16.5" fill="none" stroke="#ecfdf5" stroke-width="3"/><rect x="0.2" y="15.5" width="21.6" height="6.3" rx="0.8" fill="#ecfdf5"/></svg>
<div class="t" style="left:91.0px;top:6.00px;font-size:32px;color:#ecfdf5;">Booking via Airbnb</div>
</div>
<div class="a" style="left:1218px;top:882px;width:428px;height:48px;border-radius:12px;background:#dc2626;border:2px solid #b91c1c;overflow:hidden">
<svg style="left:12px;top:12px" width="20" height="20" viewBox="0 0 20 20"><path d="M1.5 1.5L18.5 18.5M18.5 1.5L1.5 18.5" stroke="#fef2f2" stroke-width="2.6"/></svg>
<div class="t" style="left:52.0px;top:6.00px;font-size:32px;color:#fef2f2;">Closed for maintenance</div>
</div>
<div class="a" style="left:440px;top:1044px;width:1014px;height:48px;border-radius:12px;background:#079669;border:2px solid #046c4e;overflow:hidden">
<svg style="left:51px;top:9px" width="22" height="22" viewBox="0 0 22 22"><circle cx="11.1" cy="3.9" r="2.5" fill="none" stroke="#ecfdf5" stroke-width="2.2"/><path d="M3.5 16.5V12.5A7.55 4.8 0 0 1 18.6 12.5V16.5" fill="none" stroke="#ecfdf5" stroke-width="3"/><rect x="0.2" y="15.5" width="21.6" height="6.3" rx="0.8" fill="#ecfdf5"/></svg>
<div class="t" style="left:91.0px;top:6.00px;font-size:32px;color:#ecfdf5;">Julia Doe</div>
</div>
<div class="a" style="left:440px;top:1368px;width:102px;height:48px;border-radius:12px;background:repeating-linear-gradient(135deg,#0d6448 0 3.5px,#079669 3.5px 13.5px,#0d6448 13.5px 20px);border:2px solid #05734f;overflow:hidden">
<svg style="left:51px;top:9px" width="22" height="22" viewBox="0 0 22 22"><circle cx="11.1" cy="3.9" r="2.5" fill="none" stroke="#ecfdf5" stroke-width="2.2"/><path d="M3.5 16.5V12.5A7.55 4.8 0 0 1 18.6 12.5V16.5" fill="none" stroke="#ecfdf5" stroke-width="3"/><rect x="0.2" y="15.5" width="21.6" height="6.3" rx="0.8" fill="#ecfdf5"/></svg>
<div class="t" style="left:91.0px;top:6.00px;font-size:32px;color:#ecfdf5;">Julie Miller</div>
</div>
<div class="a" style="left:2130px;top:1368px;width:668px;height:48px;border-radius:12px;background:#dc2626;border:2px solid #b91c1c;overflow:hidden">
<svg style="left:12px;top:12px" width="20" height="20" viewBox="0 0 20 20"><path d="M1.5 1.5L18.5 18.5M18.5 1.5L1.5 18.5" stroke="#fef2f2" stroke-width="2.6"/></svg>
<div class="t" style="left:52.0px;top:6.00px;font-size:32px;color:#fef2f2;">Blocked period</div>
</div>
<div class="a" style="left:1410px;top:558px;width:44px;height:48px;border-radius:12px;border:2.2px dashed #111"></div>
<svg style="left:1410px;top:558px" width="44" height="48"><path d="M16 23.5H36M26 13.5V33.5" stroke="#111" stroke-width="2.4"/></svg>
<div class="a" style="left:96px;top:390px;width:384px;height:1410px;background:#eff4f0;border-right:2px solid #e3e5e3"></div>
<div class="a" style="left:96px;top:548px;width:382px;height:2px;background:#e3e5e3"></div>
<div class="a" style="left:116px;top:436px;width:64px;height:64px;border-radius:12px;overflow:hidden;background:#999"><svg style="left:0;top:0" width="64" height="64" viewBox="0 0 64 64"><rect width="64" height="64" fill="#c9a38c"/><path d="M0 0H44V9H19V19H0Z" fill="#b8dcf2"/><path d="M0 10H19V19H0Z" fill="#d9eef0"/><path d="M19 8H50V12H19Z" fill="#4a4432"/><path d="M0 18H20V22H0Z" fill="#5a5040"/><path d="M44 0H64V64H44Z" fill="#d2a6a0"/><path d="M54 4H62V25H54Z" fill="#4a4438"/><path d="M20 12H44V40H20Z" fill="#c4a88c"/><path d="M0 22H20V44H0Z" fill="#d2a8a0"/><rect x="27" y="16" width="6" height="8" fill="#2a2a22"/><rect x="39" y="19" width="7" height="9" fill="#141410"/><rect x="1" y="29" width="6" height="9" fill="#4a4a40"/><path d="M0 44H28V64H0Z" fill="#b07a5a"/><path d="M2 52L14 50L20 58L10 64H0Z" fill="#c8685a"/><path d="M28 44H46V64H28Z" fill="#3e3a2c"/><rect x="38" y="40" width="9" height="14" fill="#b45a3c"/><path d="M46 44H64V64H46Z" fill="#a08060"/><rect x="52" y="46" width="6" height="18" fill="#4a3c30"/></svg></div>
<div class="a" style="left:96px;top:388px;width:382px;height:160px;overflow:hidden"><div class="a" style="left:0;top:0;width:382px;height:160px;background:radial-gradient(ellipse 220px 140px at 100% 100%,rgba(254,205,205,0.24),rgba(254,205,205,0) 100%)"></div><div class="a" style="left:344px;top:2px;width:76px;height:50px;background:rgba(90,125,108,0.07);filter:blur(10px)"></div></div>
<div class="t" style="left:204.0px;top:452.00px;font-size:32px;color:#111;">Casa Fortuna</div>
<div class="a" style="left:96px;top:710px;width:382px;height:2px;background:#e3e5e3"></div>
<div class="a" style="left:116px;top:598px;width:64px;height:64px;border-radius:12px;overflow:hidden;background:#999"><svg style="left:0;top:0" width="64" height="64" viewBox="0 0 64 64"><rect width="64" height="64" fill="#a89a7a"/><path d="M0 0H64V8L46 12L34 10L30 8L0 14Z" fill="#4a90dc"/><path d="M38 0H64V8L46 12Z" fill="#5a8ab0"/><path d="M0 14L30 8L47 17L64 7V20L44 24L30 18L0 22Z" fill="#2e2c26"/><path d="M0 22H40V50H0Z" fill="#a6a090"/><path d="M40 20H64V64H40Z" fill="#b0a070"/><rect x="9" y="32" width="8" height="17" rx="4" fill="#e0b0b0"/><rect x="11" y="34" width="5" height="15" rx="2.5" fill="#2a2420"/><rect x="12" y="42" width="4" height="7" fill="#b05a3a"/><rect x="27" y="45" width="10" height="5" fill="#6a8a28"/><rect x="17" y="17" width="5" height="5" fill="#6aa0d0"/><path d="M0 50L42 56V64H0Z" fill="#9c9c98"/><path d="M0 52L22 62L0 64Z" fill="#c4c4c0"/><path d="M36 52L48 50V64H36Z" fill="#3a3830"/></svg></div>
<div class="t" style="left:204.0px;top:614.00px;font-size:32px;color:#111;">Casa Serena</div>
<div class="a" style="left:96px;top:872px;width:382px;height:2px;background:#e3e5e3"></div>
<div class="a" style="left:116px;top:760px;width:64px;height:64px;border-radius:12px;overflow:hidden;background:#999"><svg style="left:0;top:0" width="64" height="64" viewBox="0 0 64 64"><rect width="64" height="64" fill="#a86048"/><path d="M0 0H64V10L58 8L50 12L42 14L20 4L0 14Z" fill="#58a4ec"/><path d="M0 16L8 8L20 4L42 14L38 36L0 42Z" fill="#3a3024"/><path d="M8 14L20 8L38 16L36 40L4 36Z" fill="#e0a8a8"/><path d="M6 16L12 14L10 36L4 36Z" fill="#d8d0d0"/><rect x="24" y="18" width="12" height="7" fill="#4a7a90"/><rect x="26" y="33" width="11" height="12" fill="#3a6a80"/><path d="M40 14L52 10L64 10V34L52 36L42 44Z" fill="#e27070"/><path d="M40 14L44 12V44L40 46Z" fill="#2a2820"/><path d="M0 40L40 48L46 36L64 34V64H0Z" fill="#8a5a40"/><path d="M0 42L40 50L40 58L0 52Z" fill="#4a4030"/><path d="M0 52L40 58V64H0Z" fill="#d06858"/><path d="M46 40L64 38V64H44Z" fill="#b86a48"/></svg></div>
<div class="a" style="left:96px;top:712px;width:382px;height:160px;overflow:hidden"><div class="a" style="left:0;top:0;width:382px;height:160px;background:radial-gradient(ellipse 220px 140px at 100% 100%,rgba(254,205,205,0.24),rgba(254,205,205,0) 100%)"></div><div class="a" style="left:254px;top:2px;width:166px;height:50px;background:rgba(90,125,108,0.07);filter:blur(10px)"></div></div>
<div class="t" style="left:204.0px;top:776.00px;font-size:32px;color:#111;">Casa Tranquilla</div>
<div class="a" style="left:96px;top:1034px;width:382px;height:2px;background:#e3e5e3"></div>
<div class="a" style="left:116px;top:922px;width:64px;height:64px;border-radius:12px;overflow:hidden;background:#999"><svg style="left:0;top:0" width="64" height="64" viewBox="0 0 64 64"><rect width="64" height="64" fill="#8a9a80"/><path d="M0 0H64V14L56 6L44 4L30 16L0 14Z" fill="#f8f8f8"/><path d="M0 14L30 16L26 24H0Z" fill="#b8b8b4"/><path d="M26 24L44 4L58 20L64 24V44H26Z" fill="#2a9a78"/><path d="M44 4L60 22L54 24L44 12Z" fill="#1a2a24"/><path d="M54 0H64V40H56Z" fill="#8a8a70"/><path d="M0 24H26V44H0Z" fill="#20201c"/><rect x="37" y="22" width="8" height="10" fill="#a0a0a0"/><rect x="3" y="20" width="2" height="44" fill="#c8d8d0"/><path d="M24 34H64V44H24Z" fill="#8a6a40"/><rect x="36" y="36" width="10" height="4" fill="#c86a40"/><path d="M24 42H64V48H24Z" fill="#1a7a5a"/><path d="M0 44H24V58H0Z" fill="#b09a60"/><rect x="6" y="47" width="8" height="7" fill="#c0603c"/><path d="M24 48H64V56H24Z" fill="#2a2a24"/><path d="M36 52H56V58H36Z" fill="#4aa88a"/><path d="M0 56H64V64H0Z" fill="#d4d4d0"/></svg></div>
<div class="t" style="left:204.0px;top:938.00px;font-size:32px;color:#111;">La Bella Vita</div>
<div class="a" style="left:96px;top:1196px;width:382px;height:2px;background:#e3e5e3"></div>
<div class="a" style="left:116px;top:1084px;width:64px;height:64px;border-radius:12px;overflow:hidden;background:#999"><svg style="left:0;top:0" width="64" height="64" viewBox="0 0 64 64"><rect width="64" height="64" fill="#a8a6a0"/><path d="M0 0H40V14L0 18Z" fill="#a8d4f4"/><path d="M36 0H64V12L36 14Z" fill="#5a6050"/><path d="M8 4L20 2L26 10L10 14Z" fill="#4a5040"/><path d="M52 2H64V8L56 10Z" fill="#9cc8e8"/><path d="M0 14L22 12L40 10L64 12V36H0Z" fill="#b4b2ac"/><path d="M30 14L64 14V30L34 28Z" fill="#c4c2bc"/><path d="M0 20H20V25H0Z" fill="#d8b0a8"/><path d="M0 26H64V30H0Z" fill="#8a887e"/><rect x="3" y="28" width="6" height="20" fill="#1a1a18"/><rect x="15" y="32" width="14" height="16" fill="#222220"/><rect x="44" y="32" width="7" height="8" fill="#141412"/><path d="M49 40L64 41V48H52Z" fill="#ececea"/><path d="M0 46H64V54H0Z" fill="#3e4a26"/><path d="M10 46H64V51H10Z" fill="#6a9424"/><path d="M0 54H64V64H0Z" fill="#d6d4d0"/><path d="M6 57H58V60H6Z" fill="#b8b6b0"/></svg></div>
<div class="a" style="left:96px;top:1036px;width:382px;height:160px;overflow:hidden"><div class="a" style="left:0;top:0;width:382px;height:160px;background:radial-gradient(ellipse 220px 140px at 100% 100%,rgba(254,205,205,0.24),rgba(254,205,205,0) 100%)"></div><div class="a" style="left:356px;top:2px;width:64px;height:50px;background:rgba(90,125,108,0.07);filter:blur(10px)"></div></div>
<div class="t" style="left:204.0px;top:1100.00px;font-size:32px;color:#111;">Serenissima</div>
<div class="a" style="left:96px;top:1358px;width:382px;height:2px;background:#e3e5e3"></div>
<div class="a" style="left:116px;top:1246px;width:64px;height:64px;border-radius:12px;overflow:hidden;background:#999"><svg style="left:0;top:0" width="64" height="64" viewBox="0 0 64 64"><rect width="64" height="64" fill="#c8c6c0"/><path d="M0 0H30V16H0Z" fill="#5a6a28"/><path d="M30 0H64V14L30 16Z" fill="#3a7ad0"/><path d="M32 4L46 6L58 10L64 18L30 22Z" fill="#5a6a30"/><path d="M0 4H28V14H0Z" fill="#2e3220"/><path d="M0 15L30 18L64 22V26L30 22L0 19Z" fill="#c0603a"/><path d="M0 19H64V54H0Z" fill="#dcdcd8"/><rect x="18" y="21" width="18" height="13" fill="#6a6a60"/><rect x="4" y="23" width="6" height="7" fill="#5a5a48"/><rect x="52" y="27" width="4" height="6" fill="#4a4a3c"/><path d="M50 33H64V37H50Z" fill="#c06060"/><rect x="52" y="37" width="12" height="16" fill="#3a3a30"/><rect x="2" y="40" width="8" height="13" fill="#3a3a30"/><rect x="13" y="42" width="8" height="12" fill="#b85a3a"/><rect x="15" y="44" width="5" height="8" fill="#101010"/><rect x="38" y="40" width="6" height="14" fill="#2a2a24"/><path d="M0 54H64V58H0Z" fill="#a8966a"/><path d="M0 58H64V64H0Z" fill="#62782a"/></svg></div>
<div class="t" style="left:204.0px;top:1262.00px;font-size:32px;color:#111;">Stella Rossa</div>
<div class="a" style="left:96px;top:1520px;width:382px;height:2px;background:#e3e5e3"></div>
<div class="a" style="left:116px;top:1408px;width:64px;height:64px;border-radius:12px;overflow:hidden;background:#999"><svg style="left:0;top:0" width="64" height="64" viewBox="0 0 64 64"><rect width="64" height="64" fill="#5aaea4"/><path d="M0 0H64V22H0Z" fill="#6a9ccc"/><path d="M0 14H40V24H0Z" fill="#88b4c4"/><path d="M0 24L24 20L36 16L50 14L56 8L60 12L64 14V38H0Z" fill="#9a8a6a"/><path d="M10 22H64V27H10Z" fill="#e0b4b0"/><path d="M44 14H64V22H44Z" fill="#d0c0a0"/><path d="M0 30H64V38H0Z" fill="#5e5646"/><rect x="8" y="29" width="3" height="9" fill="#2a2620"/><rect x="24" y="29" width="3" height="9" fill="#2a2620"/><path d="M40 36H64V40H40Z" fill="#b89a70"/><path d="M0 38H64V41H0Z" fill="#c4c4bc"/><path d="M0 41H64V64H0Z" fill="#58b0a6"/><path d="M0 52H64V64H0Z" fill="#5aa6b0"/><rect x="46" y="42" width="18" height="10" fill="#a0a09a"/><rect x="14" y="45" width="18" height="5" fill="#a8bcb0"/></svg></div>
<div class="a" style="left:96px;top:1360px;width:382px;height:160px;overflow:hidden"><div class="a" style="left:0;top:0;width:382px;height:160px;background:radial-gradient(ellipse 220px 140px at 100% 100%,rgba(254,205,205,0.24),rgba(254,205,205,0) 100%)"></div><div class="a" style="left:344px;top:2px;width:76px;height:50px;background:rgba(90,125,108,0.07);filter:blur(10px)"></div></div>
<div class="t" style="left:204.0px;top:1424.00px;font-size:32px;color:#111;">Tramonto</div>
<div class="a" style="left:96px;top:1682px;width:382px;height:2px;background:#e3e5e3"></div>
<div class="a" style="left:116px;top:1570px;width:64px;height:64px;border-radius:12px;overflow:hidden;background:#999"><svg style="left:0;top:0" width="64" height="64" viewBox="0 0 64 64"><rect width="64" height="64" fill="#a89a62"/><path d="M0 0H64V22L54 18L40 20L34 6L22 4L16 16L0 20Z" fill="#8ab4e6"/><path d="M0 20L10 16L22 6L30 14L38 8L44 20L56 16L64 20V48H0Z" fill="#3a3e28"/><path d="M18 16L28 10L30 30L22 30Z" fill="#6a8a28"/><path d="M44 20L56 18L60 44L48 44Z" fill="#5a7a24"/><path d="M58 20H64V46H58Z" fill="#6a8a28"/><path d="M2 34L18 32V48H2Z" fill="#58781e"/><path d="M22 30L34 22L44 30Z" fill="#a8a8a0"/><path d="M20 32L34 24L46 32Z" fill="#40b890"/><rect x="22" y="34" width="22" height="3" fill="#181810"/><rect x="24" y="37" width="16" height="5" fill="#80b0d8"/><rect x="44" y="32" width="6" height="12" fill="#141410"/><path d="M0 48H64V64H0Z" fill="#aea066"/><path d="M14 44H40V50H14Z" fill="#9a9a90"/></svg></div>
<div class="t" style="left:204.0px;top:1586.00px;font-size:32px;color:#111;">Villa Bella Luna</div>
<div class="a" style="left:96px;top:1844px;width:382px;height:2px;background:#e3e5e3"></div>
<div class="a" style="left:116px;top:1732px;width:64px;height:64px;border-radius:12px;overflow:hidden;background:#999"><svg style="left:0;top:0" width="64" height="64" viewBox="0 0 64 64"><rect width="64" height="64" fill="#6aa8d8"/><path d="M0 0H64V34H0Z" fill="#8cc0ea"/><path d="M2 18L8 10L14 16L10 30H2Z" fill="#3e5a34"/><path d="M22 8L30 2L36 8L32 28H24Z" fill="#40603a"/><path d="M40 6L48 2L54 10L50 28H42Z" fill="#3a5430"/><path d="M54 14L62 10L64 12V30H56Z" fill="#2e4a2a"/><path d="M0 22H20V34H0Z" fill="#d8dad4"/><path d="M14 24H44V34H14Z" fill="#7a7058"/><path d="M0 30H64V38H0Z" fill="#5e5a40"/><path d="M0 32H64V34H0Z" fill="#a88a66"/><path d="M0 38H64V64H0Z" fill="#4e9ee6"/><path d="M4 46L40 42L64 48V56L30 52L4 58Z" fill="#a6d2f4"/><path d="M0 37L64 35V39L0 40Z" fill="#b87a58"/><path d="M28 38H40V44H28Z" fill="#5a8a40"/></svg></div>
<div class="t" style="left:204.0px;top:1748.00px;font-size:32px;color:#111;">Villa Lago Bello</div></body></html>
